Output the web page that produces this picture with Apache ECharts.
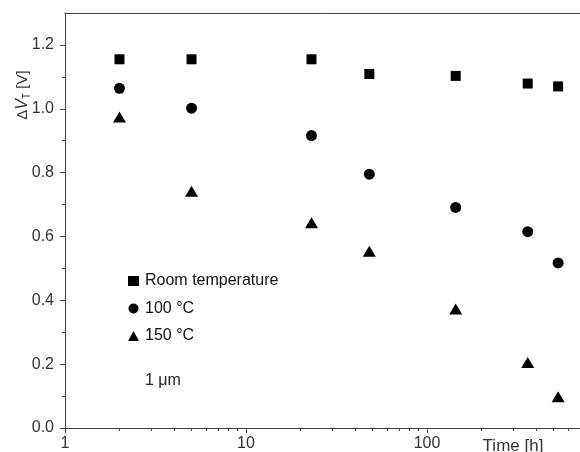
<!DOCTYPE html>
<html>
<head>
<meta charset="utf-8">
<title>Delta VT vs time</title>
<script src="https://cdn.jsdelivr.net/npm/echarts@6/dist/echarts.min.js"></script>
</head>
<body style="margin:0">
	<div id="main" style="width: 580px; height: 452px;"></div>

	<script type="text/javascript">
		// data
		var times = [2, 5, 23, 48, 144, 360, 530];
		var roomTemp = [1.155, 1.155, 1.155, 1.109, 1.103, 1.079, 1.070];
		var temp100 = [1.064, 1.002, 0.916, 0.795, 0.691, 0.615, 0.517];
		var temp150 = [0.974, 0.742, 0.643, 0.554, 0.373, 0.205, 0.098];

		var xMajorTicks = [1, 10, 100];
		var xMinorTicks = [2, 3, 4, 5, 6, 7, 8, 9, 20, 30, 40, 50, 60, 70, 80, 90, 200, 300, 400, 500, 600];
		var yMajorTicks = [0, 0.2, 0.4, 0.6, 0.8, 1.0, 1.2];
		var yMinorTicks = [0.1, 0.3, 0.5, 0.7, 0.9, 1.1];

		var axisColor = '#444';
		var font = 'Liberation Sans, Arial, sans-serif';

		function pairs(ys) {
		    return times.map(function (t, i) { return [t, ys[i]]; });
		}

		var myChart = echarts.init(document.getElementById('main'));

		var option = {
		    animation: false,
		    backgroundColor: '#fff',
		    grid: { left: 65, top: 13, right: 0, bottom: 24 },
		    legend: {
		        orient: 'vertical',
		        left: 123,
		        top: 268,
		        itemWidth: 11,
		        itemHeight: 10,
		        itemGap: 11.5,
		        textStyle: { fontFamily: font, fontSize: 16, color: '#111', lineHeight: 16, padding: [0, 0, 0, 1] },
		        data: ['Room temperature', '100 °C', '150 °C']
		    },
		    xAxis: [
		        {
		            type: 'log', logBase: 10, min: 1, max: 700,
		            axisLine: { lineStyle: { color: axisColor } },
		            axisTick: { length: 5, customValues: xMajorTicks, lineStyle: { color: axisColor } },
		            axisLabel: { customValues: xMajorTicks, margin: 8, fontFamily: font, fontSize: 16, color: '#333' },
		            splitLine: { show: false }
		        },
		        {
		            type: 'log', logBase: 10, min: 1, max: 700, position: 'bottom',
		            axisLine: { show: false },
		            axisTick: { length: 3, customValues: xMinorTicks, lineStyle: { color: axisColor } },
		            axisLabel: { show: false },
		            splitLine: { show: false }
		        },
		        {
		            type: 'log', logBase: 10, min: 1, max: 700, position: 'top',
		            axisLine: { lineStyle: { color: axisColor } },
		            axisTick: { show: false },
		            axisLabel: { show: false },
		            splitLine: { show: false }
		        }
		    ],
		    yAxis: [
		        {
		            type: 'value', min: 0, max: 1.3,
		            axisLine: { show: true, lineStyle: { color: axisColor } },
		            axisTick: { show: true, length: 5, customValues: yMajorTicks, lineStyle: { color: axisColor } },
		            axisLabel: {
		                customValues: yMajorTicks, margin: 11, fontFamily: font, fontSize: 16, color: '#333',
		                formatter: function (v) { return v.toFixed(1); }
		            },
		            splitLine: { show: false }
		        },
		        {
		            type: 'value', min: 0, max: 1.3, position: 'left',
		            axisLine: { show: false },
		            axisTick: { show: true, length: 3, customValues: yMinorTicks, lineStyle: { color: axisColor } },
		            axisLabel: { show: false },
		            splitLine: { show: false }
		        }
		    ],
		    graphic: [
		        {
		            type: 'text', x: 23, y: 95, rotation: Math.PI / 2,
		            style: {
		                text: '{n|Δ}{i|V}{s|T}{n| [V]}',
		                align: 'center', verticalAlign: 'middle',
		                rich: {
		                    n: { fontFamily: font, fontSize: 15, fill: '#333' },
		                    i: { fontFamily: font, fontSize: 16, fontStyle: 'italic', fill: '#333' },
		                    s: { fontFamily: font, fontSize: 10, fill: '#333', padding: [8, 0, 0, 0] }
		                }
		            }
		        },
		        {
		            type: 'text', x: 513, y: 438,
		            style: { text: 'Time [h]', fontFamily: font, fontSize: 17, fill: '#333', align: 'center', verticalAlign: 'top' }
		        },
		        {
		            type: 'text', x: 145, y: 381,
		            style: { text: '1 μm', fontFamily: font, fontSize: 16, fill: '#222', align: 'left', verticalAlign: 'middle' }
		        }
		    ],
		    series: [
		        {
		            name: 'Room temperature', type: 'scatter',
		            symbol: 'rect', symbolSize: 10,
		            itemStyle: { color: '#000', opacity: 1 },
		            data: pairs(roomTemp)
		        },
		        {
		            name: '100 °C', type: 'scatter',
		            symbol: 'circle', symbolSize: 11,
		            itemStyle: { color: '#000', opacity: 1 },
		            data: pairs(temp100)
		        },
		        {
		            name: '150 °C', type: 'scatter',
		            symbol: 'triangle', symbolSize: [13, 11],
		            itemStyle: { color: '#000', opacity: 1 },
		            data: pairs(temp150)
		        }
		    ]
		};

		myChart.setOption(option);
	</script>
</body>
</html>
